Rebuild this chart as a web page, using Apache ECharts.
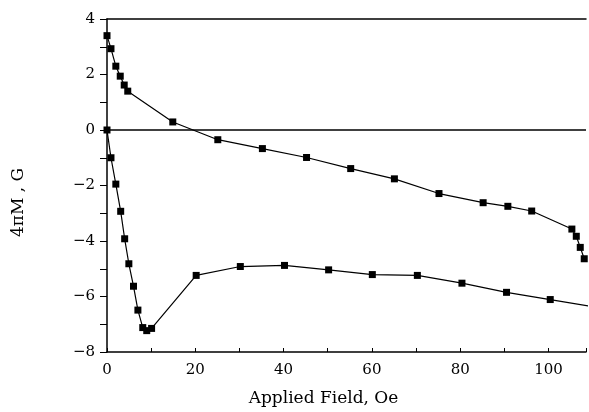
<!DOCTYPE html>
<html>
<head>
<meta charset="utf-8">
<script src="https://cdn.jsdelivr.net/npm/echarts@6/dist/echarts.min.js"></script>
<style>
  html, body { margin: 0; padding: 0; background: #fff; }
  #chart { width: 589px; height: 412px; }
</style>
</head>
<body>
<div id="chart"></div>
<script>
// Return branch (field swept back from high field to zero)
const upperField = [0, 0.9, 2.0, 3.0, 3.9, 4.7, 14.9, 25.1, 35.2, 45.2, 55.2, 65.1, 75.2, 85.2, 90.8, 96.2, 105.3, 106.3, 107.2, 108.1];
const upperM     = [3.4, 2.93, 2.3, 1.94, 1.62, 1.4, 0.29, -0.35, -0.67, -0.99, -1.39, -1.76, -2.29, -2.62, -2.75, -2.92, -3.57, -3.83, -4.23, -4.64];

// Virgin branch (field increased from zero)
const lowerField = [0, 0.9, 2.0, 3.1, 4.0, 4.95, 6.0, 7.0, 8.1, 9.0, 10.1, 20.2, 30.2, 40.2, 50.2, 60.1, 70.3, 80.4, 90.5, 100.4, 110];
const lowerM     = [0, -1.0, -1.95, -2.93, -3.92, -4.82, -5.63, -6.49, -7.12, -7.23, -7.15, -5.24, -4.92, -4.88, -5.04, -5.21, -5.24, -5.52, -5.85, -6.11, -6.37];

const xTickLabels = [0, 20, 40, 60, 80, 100];
const yTickLabels = [-8, -6, -4, -2, 0, 2, 4];

const FONT = '"DejaVu Serif", "Liberation Serif", serif';
const pairs = (xs, ys) => xs.map((x, i) => [x, ys[i]]);
const minus = v => (v < 0 ? '\u2212' + Math.abs(v) : String(v));

const chart = echarts.init(document.getElementById('chart'), null, { renderer: 'canvas' });

const lineStyle = { color: '#000', width: 1.2 };
const itemStyle = { color: '#000' };

chart.setOption({
  animation: false,
  backgroundColor: '#fff',
  grid: { left: 107, right: 0, top: 19, bottom: 57, containLabel: false },
  xAxis: [
    {
      type: 'value',
      min: 0,
      max: 108.5,
      interval: 10,
      position: 'bottom',
      name: 'Applied Field, Oe',
      nameLocation: 'middle',
      nameGap: 38,
      nameTextStyle: { fontFamily: FONT, fontSize: 17, color: '#000', padding: [0, 46, 0, 0] },
      axisLine: { onZero: false, lineStyle: { color: '#000', width: 1.5 } },
      axisTick: { inside: true, length: 4, lineStyle: { color: '#000' } },
      axisLabel: {
        fontFamily: FONT, fontSize: 15, color: '#000', margin: 11,
        formatter: v => (xTickLabels.includes(v) ? String(v) : '')
      },
      splitLine: { show: false }
    },
    {
      type: 'value',
      min: 0,
      max: 108.5,
      position: 'top',
      axisLine: { show: true, onZero: false, lineStyle: { color: '#000', width: 1.5 } },
      axisTick: { show: false },
      axisLabel: { show: false },
      splitLine: { show: false }
    }
  ],
  yAxis: {
    type: 'value',
    min: -8,
    max: 4,
    interval: 1,
    name: '4\u03c0M , G',
    nameLocation: 'middle',
    nameGap: 80,
    nameTextStyle: { fontFamily: FONT, fontSize: 17, color: '#000', padding: [0, 34, 0, 0] },
    axisLine: { onZero: false, lineStyle: { color: '#000', width: 1.5 } },
    axisTick: { inside: false, length: 7, lineStyle: { color: '#000' } },
    axisLabel: {
      fontFamily: FONT, fontSize: 15, color: '#000', margin: 12,
      formatter: v => (yTickLabels.includes(v) ? minus(v) : '')
    },
    splitLine: { show: false }
  },
  series: [
    {
      type: 'line',
      data: pairs(lowerField, lowerM),
      symbol: 'rect',
      symbolSize: 7,
      clip: true,
      lineStyle, itemStyle,
      markLine: {
        silent: true,
        symbol: 'none',
        label: { show: false },
        lineStyle: { color: '#000', width: 1.5, type: 'solid' },
        data: [{ yAxis: 0 }]
      }
    },
    {
      type: 'line',
      data: pairs(upperField, upperM),
      symbol: 'rect',
      symbolSize: 7,
      clip: true,
      lineStyle, itemStyle
    }
  ]
});
</script>
</body>
</html>
